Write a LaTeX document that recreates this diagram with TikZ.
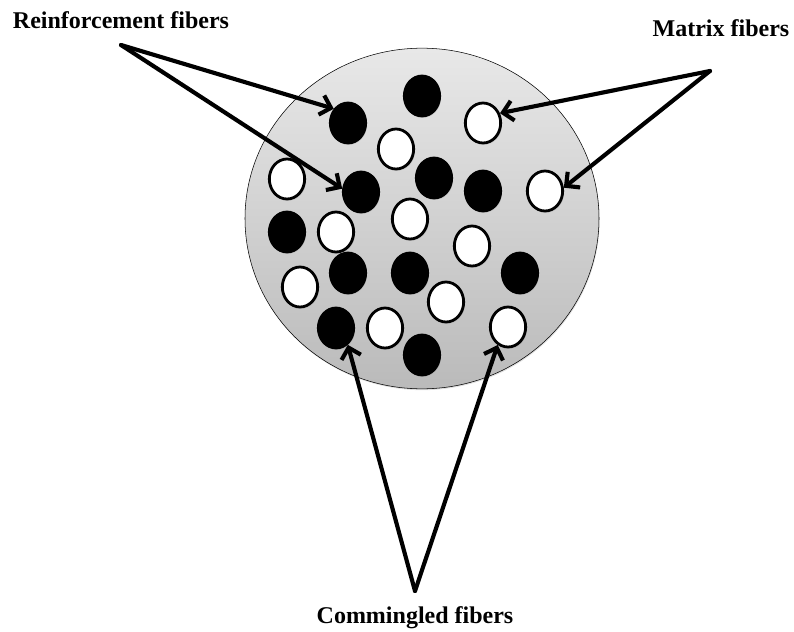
\documentclass[tikz,border=0pt]{standalone}
\usepackage{fontspec}
\setmainfont{Liberation Serif}
\usetikzlibrary{shapes.geometric, shadows, arrows.meta}

\tikzset{
  fiber/.style={ellipse, draw=black, line width=2.1pt, inner sep=0pt, minimum width=26.5pt, minimum height=30pt,
    drop shadow={opacity=0.3, shadow xshift=1pt, shadow yshift=-1.2pt}},
  rfiber/.style={fiber, fill=black},
  mfiber/.style={fiber, fill=white},
  fibertext/.style={font=\fontsize{18}{20}\selectfont\bfseries, inner sep=0pt, anchor=base},
  pointer/.style={-{Straight Barb[length=7.5pt, width=15pt]}, line width=3.1pt, line cap=round},
}

\begin{document}
\begin{tikzpicture}[x=0.75pt, y=-0.75pt]
    \useasboundingbox (0,0) rectangle (794,632);

    % Yarn cross-section
    \node[ellipse, draw=black, thin, top color=black!9, bottom color=black!27, minimum width=265.5pt, minimum height=255.5pt,
      drop shadow={opacity=0.25, shadow xshift=0.5pt, shadow yshift=-1pt}] (bundle) at (422,218.5) {};

    % Reinforcement fibers
    \node[rfiber] (b1) at (348,123) {};
    \node[rfiber] (b2) at (422,96) {};
    \node[rfiber] (b3) at (361,192) {};
    \node[rfiber] (b4) at (434,178) {};
    \node[rfiber] (b5) at (483,191) {};
    \node[rfiber] (b6) at (287,232) {};
    \node[rfiber] (b7) at (348,273) {};
    \node[rfiber] (b8) at (410,273) {};
    \node[rfiber] (b9) at (520,273) {};
    \node[rfiber] (b10) at (336,328) {};
    \node[rfiber] (b11) at (422,355) {};

    % Matrix fibers
    \node[mfiber] (w1) at (483,123) {};
    \node[mfiber] (w2) at (396,149) {};
    \node[mfiber] (w3) at (287,179) {};
    \node[mfiber] (w4) at (545,191) {};
    \node[mfiber] (w5) at (336,232) {};
    \node[mfiber] (w6) at (410,219) {};
    \node[mfiber] (w7) at (472,246) {};
    \node[mfiber] (w8) at (300,287) {};
    \node[mfiber] (w9) at (446,302) {};
    \node[mfiber] (w10) at (385,328) {};
    \node[mfiber] (w11) at (508,327) {};

    % Labels
    \node[fibertext] (rlabel) at (121,28) {Reinforcement fibers};
    \node[fibertext] (mlabel) at (721,36) {Matrix fibers};
    \node[fibertext] (clabel) at (415,623) {Commingled fibers};

    \coordinate (rsrc) at (121,45);
    \coordinate (msrc) at (710,71);
    \coordinate (csrc) at (415,591);

    % Arrows
    \draw[pointer] (rsrc) -- (b1.135);
    \draw[pointer] (rsrc) -- (b3.170);
    \draw[pointer] (msrc) -- (w1.30);
    \draw[pointer] (msrc) -- (w4.10);
    \draw[pointer] (csrc) -- (b10.-55);
    \draw[pointer] (csrc) -- (w11.-120);
\end{tikzpicture}
\end{document}
